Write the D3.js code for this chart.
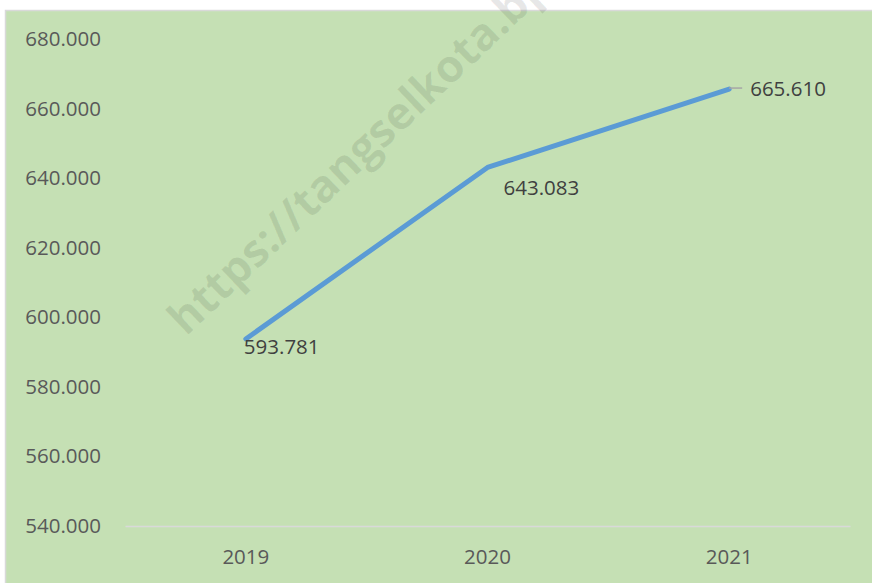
<!DOCTYPE html>
<html>
<head>
<meta charset="utf-8">
<script src="https://cdn.jsdelivr.net/npm/d3@7"></script>
<style>
  html, body { margin: 0; padding: 0; background: #ffffff; }
  svg { display: block; }
</style>
</head>
<body>
<svg id="chart" width="872" height="583"></svg>
<script>
// ---- data ----
const categories = ["2019", "2020", "2021"];
const values = [593781, 643083, 665610];
const yTicks = [540000, 560000, 580000, 600000, 620000, 640000, 660000, 680000];
const watermarkText = "https://tangselkota.bps.go.id";

// ---- layout / style ----
const W = 872, H = 583;
const plot = { left: 125, right: 850, top: 39, bottom: 526 };
const fontFamily = "'Open Sans', 'Noto Sans', sans-serif";
const fontSize = 20.5;
// label offsets (dx, dy from point) mimicking Excel placement
const labelOffsets = [[-2, 8], [16, 20], [21, 0]];

const locale = d3.formatLocale({ decimal: ",", thousands: ".", grouping: [3], currency: ["", ""] });
const fmt = locale.format(",d");

const svg = d3.select("#chart");

// chart area background + border
svg.append("rect").attr("x", 0).attr("y", 0).attr("width", W).attr("height", H).attr("fill", "#ffffff");
svg.append("rect")
  .attr("x", 5.5).attr("y", 10.5).attr("width", W).attr("height", H)
  .attr("fill", "#C5E0B4").attr("stroke", "#d9d9d9").attr("stroke-width", 1.5);

const x = d3.scaleBand().domain(categories).range([plot.left, plot.right]).padding(0);
const y = d3.scaleLinear().domain([540000, 680000]).range([plot.bottom, plot.top]);

// y axis labels (no axis line, no gridlines)
const yAxis = d3.axisLeft(y).tickValues(yTicks).tickFormat(fmt).tickSize(0).tickPadding(0);
const gy = svg.append("g").attr("transform", `translate(101,0)`).call(yAxis);
gy.select(".domain").remove();
gy.selectAll("text")
  .attr("fill", "#595959").style("font-family", fontFamily).style("font-size", fontSize + "px");

// x axis line + labels
const xAxis = d3.axisBottom(x).tickSize(0).tickPadding(0);
const gx = svg.append("g").attr("transform", `translate(0,${plot.bottom})`).call(xAxis);
gx.select(".domain").attr("stroke", "#d9d9d9").attr("stroke-width", 1.5);
gx.selectAll("text")
  .attr("fill", "#595959").attr("y", 31).attr("dy", "0.32em")
  .style("font-family", fontFamily).style("font-size", fontSize + "px");

// line
const pts = categories.map((c, i) => ({ c, v: values[i], x: x(c) + x.bandwidth() / 2, y: y(values[i]) }));
const line = d3.line().x(d => d.x).y(d => d.y);
svg.append("path").datum(pts)
  .attr("d", line).attr("fill", "none")
  .attr("stroke", "#5B9BD5").attr("stroke-width", 5)
  .attr("stroke-linejoin", "round").attr("stroke-linecap", "round");

// leader line for last label
const last = pts[pts.length - 1];
svg.append("line")
  .attr("x1", last.x).attr("x2", last.x + 13)
  .attr("y1", last.y - 1).attr("y2", last.y - 1)
  .attr("stroke", "#a6a6a6").attr("stroke-width", 1.5);

// data labels
svg.append("g").selectAll("text").data(pts).join("text")
  .attr("x", (d, i) => d.x + labelOffsets[i][0])
  .attr("y", (d, i) => d.y + labelOffsets[i][1])
  .attr("dy", "0.35em")
  .attr("fill", "#404040")
  .style("font-family", fontFamily).style("font-size", fontSize + "px")
  .text(d => fmt(d.v));

// watermark
svg.append("text")
  .attr("transform", "translate(186,337) rotate(-43.5)")
  .attr("fill", "#000").attr("fill-opacity", 0.09)
  .style("font-family", fontFamily).style("font-weight", "bold").style("font-size", "45px")
  .text(watermarkText);
</script>
</body>
</html>
